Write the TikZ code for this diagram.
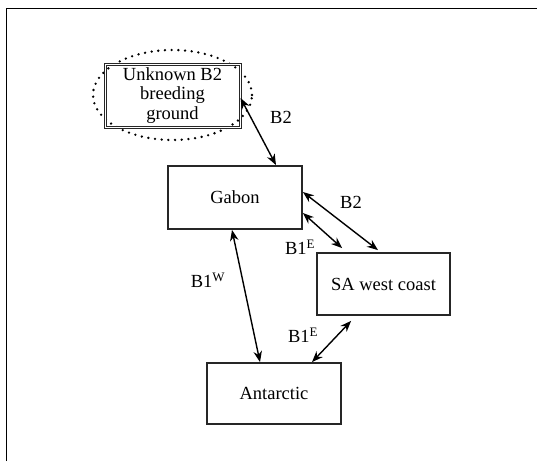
\documentclass[tikz,border=0pt]{standalone}
\usepackage{fontspec}
\setmainfont{Liberation Serif}
\usetikzlibrary{arrows.meta,calc}
\begin{document}
\begin{tikzpicture}[x=1pt,y=-1pt,
  box/.style={draw=black!85,line width=1.8pt,inner sep=0pt,align=center,
    font=\fontsize{18.5}{19.5}\selectfont},
  arr/.style={line width=1.4pt,{Stealth[length=11pt,width=8.5pt]}-{Stealth[length=11pt,width=8.5pt]}},
  lab/.style={font=\fontsize{18.5}{20}\selectfont,inner sep=0pt},
  dotring/.style={line width=2.6pt,line cap=round,dash pattern=on 0pt off 6.7pt}]
\useasboundingbox (0,0) rectangle (537,461);
\draw[line width=1pt] (6.5,461) -- (6.5,8) -- (537,8);
\draw[dotring] (172.5,95) ellipse [x radius=79.5pt, y radius=45pt];
\node[box,line width=1.1pt,double,double distance=0.8pt,minimum width=135pt,minimum height=63pt] (unk) at (172.5,95.5) {Unknown B2\\breeding\\ground};
\node[box,minimum width=134pt,minimum height=63pt] (gabon) at (235,197.5) {Gabon};
\node[box,minimum width=133pt,minimum height=62pt] (sa) at (383.5,284) {SA west coast};
\node[box,minimum width=134pt,minimum height=61pt] (ant) at (274,393.5) {Antarctic};
\draw[arr] ([yshift=-2.5pt]unk.east) -- ([xshift=41pt]gabon.north);
\draw[arr] ([yshift=5.5pt]gabon.east) -- ([xshift=-5.5pt,yshift=2pt]sa.north);
\draw[arr] ([yshift=-15.5pt]gabon.east) -- ([xshift=26pt,yshift=4pt]sa.north west);
\draw[arr] ([xshift=-3pt]gabon.south) -- ([xshift=-14pt]ant.north);
\draw[arr] ([xshift=35pt,yshift=-5pt]sa.south west) -- ([xshift=38pt]ant.north);
\node[lab] (l1) at (281,117) {B2};
\node[lab] (l2) at (351,202) {B2};
\node[lab] (l3) at (300,247) {B1\textsuperscript{E}};
\node[lab] (l4) at (208,280) {B1\textsuperscript{W}};
\node[lab] (l5) at (303,335) {B1\textsuperscript{E}};
\end{tikzpicture}
\end{document}
